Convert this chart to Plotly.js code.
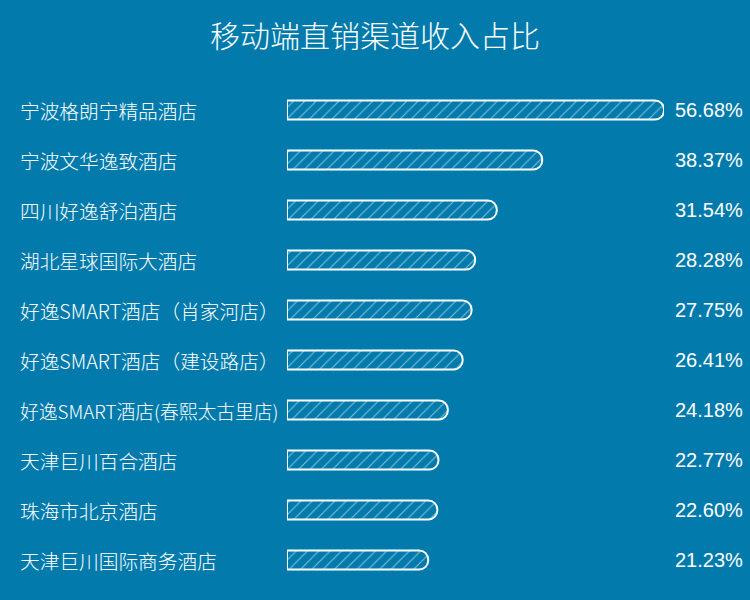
<!DOCTYPE html>
<html>
<head>
<meta charset="utf-8">
<script src="https://cdn.plot.ly/plotly-3.0.1.min.js"></script>
<style>html,body{margin:0;padding:0;background:#027BAC;}</style>
</head>
<body>
<div id="chart" style="width:750px;height:600px;"></div>
<script>
var hotels = ["宁波格朗宁精品酒店","宁波文华逸致酒店","四川好逸舒泊酒店","湖北星球国际大酒店","好逸SMART酒店（肖家河店）","好逸SMART酒店（建设路店）","好逸SMART酒店(春熙太古里店)","天津巨川百合酒店","珠海市北京酒店","天津巨川国际商务酒店"];
var shares = [56.68, 38.37, 31.54, 28.28, 27.75, 26.41, 24.18, 22.77, 22.60, 21.23];
var titleText = "移动端直销渠道收入占比";

var BG = "#027BAC";
var cjk = "'Noto Sans CJK SC', 'Noto Sans', sans-serif";
var latin = "'Liberation Sans', Arial, sans-serif";

var trace = {
  type: "bar",
  orientation: "h",
  x: shares,
  y: hotels,
  marker: {
    color: BG,
    cornerradius: 9,
    line: {color: "#ffffff", width: 2},
    pattern: {shape: "/", fgcolor: "#ffffff", bgcolor: BG, size: 8, solidity: 0.14, fillmode: "overlay"}
  },
  hoverinfo: "none"
};

var annotations = [];
hotels.forEach(function (h, i) {
  var fs = h.length >= 17 ? 18.8 : 19.7;
  annotations.push({xref: "paper", yref: "y", x: -0.7135, y: h, xanchor: "left", yanchor: "middle",
    text: h, showarrow: false, font: {family: cjk, size: fs, color: "#ffffff", weight: 300}});
  annotations.push({xref: "paper", yref: "y", x: 1.214, y: h, xanchor: "right", yanchor: "middle",
    text: shares[i].toFixed(2) + "%", showarrow: false, font: {family: latin, size: 20, color: "#ffffff"}});
});

var layout = {
  width: 750, height: 600,
  paper_bgcolor: BG, plot_bgcolor: BG,
  margin: {l: 287, r: 86, t: 85, b: 15},
  title: {text: titleText, x: 0.5, xref: "container", xanchor: "center", y: 0.94, yref: "container", yanchor: "middle",
          font: {family: cjk, size: 30, color: "#ffffff", weight: 300}},
  xaxis: {range: [0, 56.68], domain: [0, 1], showgrid: false, zeroline: false, showticklabels: false, showline: false, fixedrange: true},
  yaxis: {type: "category", autorange: "reversed", showgrid: false, zeroline: false, showticklabels: false, showline: false, fixedrange: true},
  bargap: 0.62,
  showlegend: false,
  annotations: annotations
};

Plotly.newPlot("chart", [trace], layout, {displayModeBar: false, staticPlot: true});
</script>
</body>
</html>
